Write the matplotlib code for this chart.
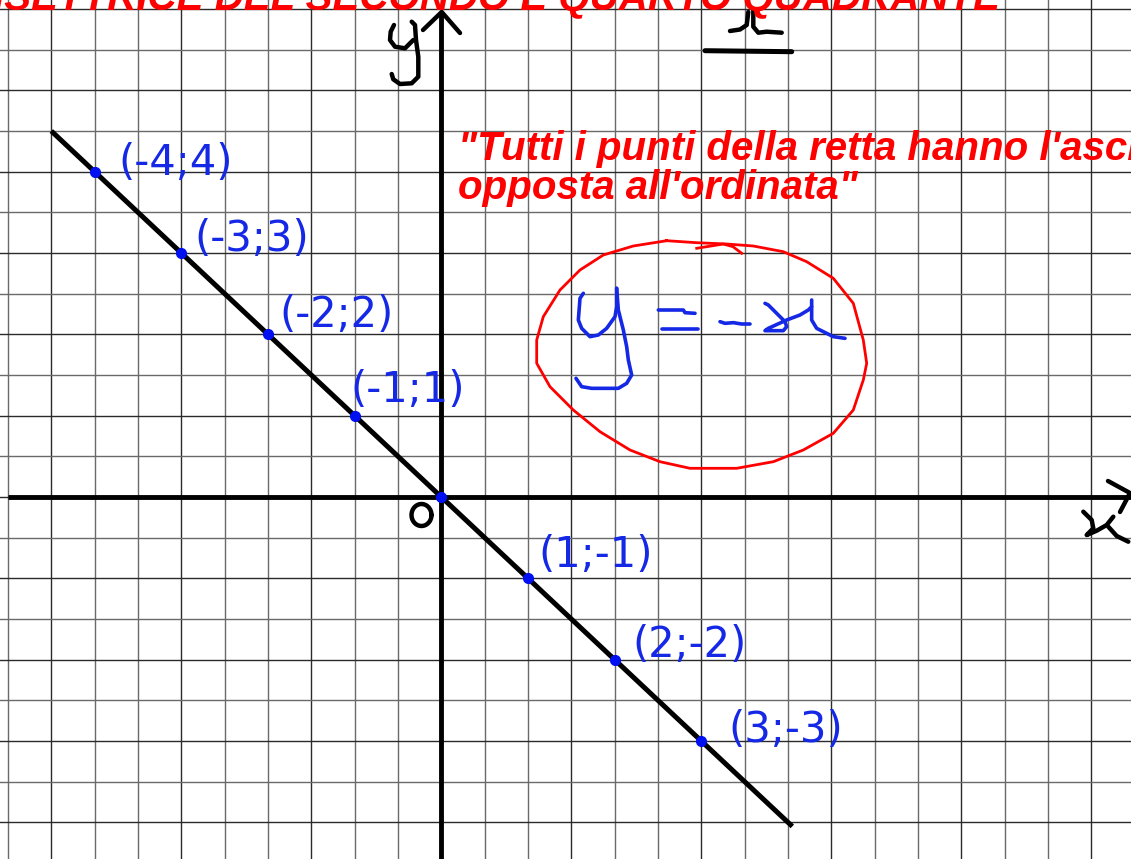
import numpy as np
import matplotlib
matplotlib.use("Agg")
import matplotlib.pyplot as plt

# ---------------- data ----------------
xs = [-4, -3, -2, -1, 0, 1, 2, 3]
ys = [4, 3, 2, 1, 0, -1, -2, -3]
point_labels = ["(-4;4)", "(-3;3)", "(-2;2)", "(-1;1)", "", "(1;-1)", "(2;-2)", "(3;-3)"]
line_x = [-4.5, 4.05]
title_text = "BISETTRICE DEL SECONDO E QUARTO QUADRANTE"
quote_lines = ["\"Tutti i punti della retta hanno l'ascissa", "opposta all'ordinata\""]
equation_text = "y = -x"

# ---------------- figure geometry ----------------
W, H = 1131, 859
XMIN, XMAX = -5.092, 7.958
YMIN, YMAX = -4.451, 6.111

fig = plt.figure(figsize=(W / 100, H / 100), dpi=100)
ax = fig.add_axes([0, 0, 1, 1])
ax.set_xlim(XMIN, XMAX)
ax.set_ylim(YMIN, YMAX)
ax.axis("off")
fig.patch.set_facecolor("white")


def P(pts):
    """image-pixel pen strokes -> data coords"""
    a = np.asarray(pts, dtype=float)
    x = XMIN + a[:, 0] / W * (XMAX - XMIN)
    y = YMAX - a[:, 1] / H * (YMAX - YMIN)
    return x, y


# grid (half-unit squares)
for i, gx in enumerate(np.arange(-5, 7.6, 0.5)):
    ax.axvline(gx, color="#2a2a2a" if i % 3 == 1 else "#6a6a6a", lw=1.0, zorder=1)
for i, gy in enumerate(np.arange(-4, 6.1, 0.5)):
    ax.axhline(gy, color="#2a2a2a" if i % 2 == 0 else "#6a6a6a", lw=1.0, zorder=1)

# axes
ax.plot([0, 0], [YMIN, 5.97], color="black", lw=3.5, solid_capstyle="butt", zorder=3)
ax.plot([-5.0, XMAX], [0, 0], color="black", lw=3.5, solid_capstyle="butt", zorder=3)
pen = dict(color="black", lw=3.2, solid_capstyle="round", solid_joinstyle="round", zorder=4)
ax.plot(*P([(423, 30), (441.7, 12), (460, 33)]), **pen)
ax.plot(*P([(1108, 481), (1130, 493), (1120, 512)]), **pen)

# axis letters (hand drawn)
ax.plot(*P([(394, 25), (390.7, 31.7), (390, 40), (395, 46.7), (405, 48.3), (413.3, 40)]), **pen)
ax.plot(*P([(411.7, 21.7), (415, 25), (416, 40), (418.3, 56.7), (418.3, 76.7), (411.7, 83.3),
            (400, 84), (393.3, 79.3), (391.7, 74)]), **pen)
ax.plot(*P([(1083.3, 511.7), (1091.7, 520), (1093.3, 528.3), (1086.7, 535), (1096.7, 530.7),
            (1106.7, 525), (1113.3, 516.7)]), **pen)
ax.plot(*P([(1108.3, 526.7), (1116.7, 536), (1128.3, 541.7)]), **pen)
# origin "O"
t = np.linspace(0, 2 * np.pi, 40)
ax.plot(*P(np.c_[421.5 + 10 * np.cos(t), 515 + 11 * np.sin(t)]), **pen)
# scribble top
ax.plot(*P([(730, 31), (740, 29.5), (746.7, 25), (748.3, 12)]), **pen)
ax.plot(*P([(753.3, 10), (753.3, 26.7), (758.3, 32.7), (766.7, 31.7), (781.7, 32.7)]), **pen)
ax.plot(*P([(705, 50.7), (791.7, 51.7)]), color="black", lw=3.6, solid_capstyle="round", zorder=4)

# main line y = -x
lx = np.array(line_x)
ax.plot(lx, -lx, color="black", lw=3.6, solid_capstyle="butt", zorder=5)
ax.plot(xs, ys, "o", color="#0010f0", ms=7, zorder=6)

# point labels
offsets = [(24, 9), (13, 14), (11, 19), (-4, 26), (0, 0), (10, 23), (18, 15), (27, 11)]
for x, y, lab, off in zip(xs, ys, point_labels, offsets):
    if lab:
        ax.annotate(lab, (x, y), xytext=off, textcoords="offset pixels",
                    ha="left", va="center", fontsize=30, color="#1428e6",
                    family="DejaVu Sans", zorder=6)

# red title (cut at top) and quote
red = "#ff0000"
tx, ty = P([(1000, 9)])
ax.text(tx[0], ty[0], title_text, ha="right", va="baseline", color=red, fontsize=29,
        family="Liberation Sans", fontweight="bold", fontstyle="italic", zorder=7)
qx, qy = P([(458, 160), (458, 199)])
ax.text(qx[0], qy[0], quote_lines[0], ha="left", va="baseline", color=red, fontsize=29,
        family="Liberation Sans", fontweight="bold", fontstyle="italic", zorder=7)
ax.text(qx[1], qy[1], quote_lines[1], ha="left", va="baseline", color=red, fontsize=29,
        family="Liberation Sans", fontweight="bold", fontstyle="italic", zorder=7)

# red hand-drawn ellipse
ell = [(666.7, 240.7), (633.3, 246), (603.3, 255), (580, 270), (560, 290), (543.3, 316.7),
       (536.7, 340), (536.7, 363.3), (550, 386.7), (573.3, 410), (600, 431.7), (630, 450),
       (660, 461.7), (690, 468.3), (736.7, 468.3), (773.3, 461.7), (803.3, 450), (833.3, 433.3),
       (853.3, 410), (863.3, 380), (866.7, 363.3), (863.3, 340), (853.3, 303.3), (833.3, 278.3),
       (806.7, 261.7), (783.3, 251.7), (753.3, 246), (726.7, 244), (696.7, 242.7), (666.7, 240.7)]
ax.plot(*P(ell), color=red, lw=2.0, solid_joinstyle="round", zorder=4)
ax.plot(*P([(696.7, 248.3), (723.3, 244), (733, 246.7), (741.7, 253.3)]), color=red, lw=2.0, zorder=4)

# blue hand-written equation y = -x
blue_pen = dict(color="#1428e6", lw=2.6, solid_capstyle="round", solid_joinstyle="round", zorder=5)


def Z(pts):
    return [(520 + a / 3, 220 + b / 3) for a, b in pts]


ax.plot(*P(Z([(190, 220), (180, 235), (175, 300), (185, 325), (210, 350), (235, 345), (260, 325),
              (285, 290), (290, 260), (290, 205)])), **blue_pen)
ax.plot(*P(Z([(290, 205), (295, 270), (310, 330), (320, 380), (325, 420), (335, 465), (320, 490),
              (295, 505), (215, 505), (185, 500), (168, 475)])), **blue_pen)
ax.plot(*P(Z([(415, 270), (490, 270), (495, 278), (525, 280)])), **blue_pen)
ax.plot(*P(Z([(425, 326), (535, 326)])), **blue_pen)
ax.plot(*P(Z([(600, 305), (615, 310), (640, 308), (665, 312), (690, 312)])), **blue_pen)
ax.plot(*P(Z([(735, 250), (745, 255), (760, 270), (780, 290), (795, 305), (800, 320), (790, 332),
              (735, 332), (745, 325), (800, 300), (840, 285), (865, 270), (875, 260), (875, 240)])),
        **blue_pen)
ax.plot(*P(Z([(875, 260), (875, 300), (890, 325), (920, 340), (940, 350), (975, 355)])), **blue_pen)

fig.savefig("out.png", dpi=100, facecolor="white")
